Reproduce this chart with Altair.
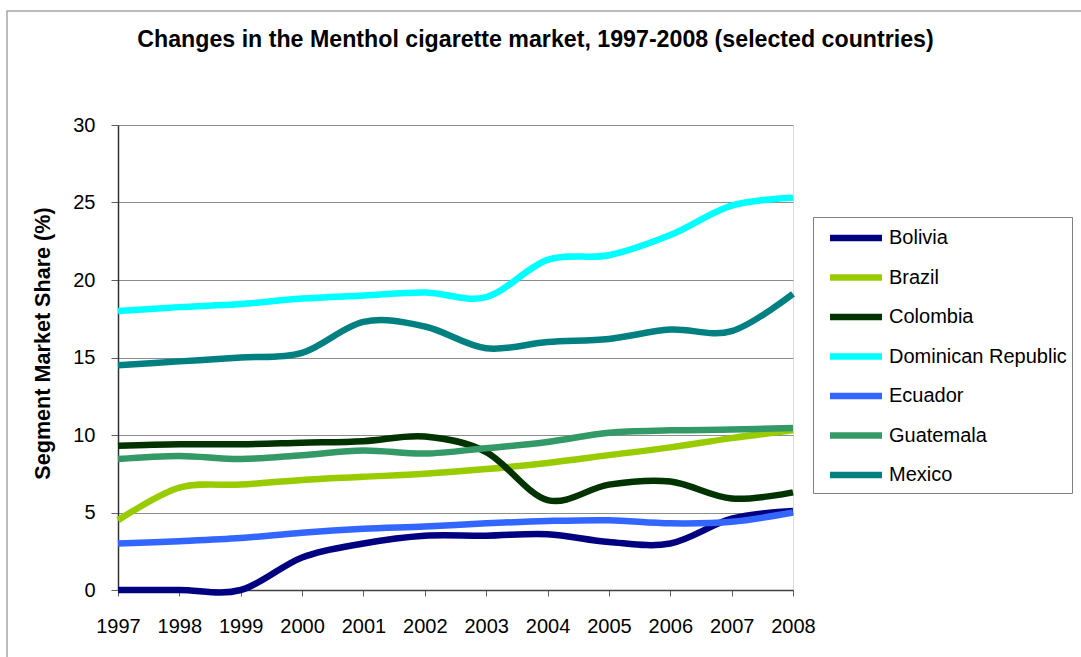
import altair as alt
import pandas as pd

years = list(range(1997, 2009))
countries = ["Bolivia", "Brazil", "Colombia", "Dominican Republic", "Ecuador", "Guatemala", "Mexico"]
colors = ["#000080", "#99CC00", "#003300", "#00FFFF", "#3366FF", "#339966", "#008080"]

bolivia = [0.0, 0.0, 0.0, 2.1, 3.0, 3.5, 3.5, 3.6, 3.1, 3.0, 4.6, 5.1]
brazil = [4.5, 6.6, 6.8, 7.1, 7.3, 7.5, 7.8, 8.2, 8.7, 9.2, 9.8, 10.3]
colombia = [9.3, 9.4, 9.4, 9.5, 9.6, 9.9, 8.9, 5.8, 6.8, 7.0, 5.9, 6.3]
dominican = [18.0, 18.25, 18.45, 18.8, 19.0, 19.2, 18.9, 21.3, 21.6, 22.9, 24.8, 25.3]
ecuador = [3.0, 3.15, 3.35, 3.7, 3.95, 4.1, 4.3, 4.45, 4.5, 4.3, 4.4, 5.0]
guatemala = [8.45, 8.65, 8.45, 8.7, 9.0, 8.8, 9.15, 9.55, 10.15, 10.3, 10.35, 10.45]
mexico = [14.5, 14.75, 15.0, 15.3, 17.3, 17.0, 15.6, 16.0, 16.2, 16.8, 16.7, 19.1]

series = [bolivia, brazil, colombia, dominican, ecuador, guatemala, mexico]
rows = []
for name, vals in zip(countries, series):
    for y, v in zip(years, vals):
        rows.append({"Country": name, "Year": y, "Share": v})
df = pd.DataFrame(rows)

FONT = "Liberation Sans"

frame = alt.Chart(pd.DataFrame({"k": [0]})).mark_rect(
    fillOpacity=0, stroke="#a6a6a6", strokeWidth=1.5
).encode(
    x=alt.value(-111), x2=alt.value(1100), y=alt.value(-114), y2=alt.value(600)
)

lines = alt.Chart(df).mark_line(strokeWidth=6.5, interpolate="cardinal").encode(
    x=alt.X("Year:Q",
            scale=alt.Scale(domain=[1997, 2008], nice=False, zero=False),
            axis=alt.Axis(values=years, format="d", title=None, grid=False,
                          tickSize=6, labelPadding=20, labelFontSize=20,
                          labelFont=FONT, labelColor="#000000",
                          domainColor="#404040", domainWidth=1.5,
                          tickColor="#606060", labelFlush=False)),
    y=alt.Y("Share:Q",
            scale=alt.Scale(domain=[0, 30], nice=False),
            axis=alt.Axis(values=[0, 5, 10, 15, 20, 25, 30],
                          title="Segment Market Share (%)",
                          titleFont=FONT, titleFontSize=21.6, titleFontWeight="bold",
                          titleColor="#000000", titlePadding=18, titleY=218,
                          tickSize=7, labelPadding=16, labelFontSize=20,
                          labelFont=FONT, labelColor="#000000",
                          domainColor="#303030", domainWidth=1.5,
                          tickColor="#606060", grid=True, gridColor="#8c8c8c",
                          gridWidth=1, labelFlush=False)),
    color=alt.Color("Country:N",
                    scale=alt.Scale(domain=countries, range=colors),
                    legend=alt.Legend(title=None, orient="none", legendX=695, legendY=92,
                                      symbolType="M-2,0H2", symbolSize=676,
                                      symbolStrokeWidth=6.5, symbolOffset=22,
                                      labelOffset=16.5, labelFontSize=20, labelFont=FONT,
                                      labelColor="#000000", padding=4.5, rowPadding=9.5,
                                      strokeColor="#808080", fillColor="#ffffff",
                                      labelLimit=400)),
    order=alt.Order("Year:Q"),
)

chart = alt.layer(frame, lines).properties(
    width=675,
    height=465,
    padding={"left": 118, "top": 125, "right": 288, "bottom": 67},
    autosize=alt.AutoSizeParams(type="none"),
    title=alt.TitleParams(
        "Changes in the Menthol cigarette market, 1997-2008 (selected countries)",
        font=FONT, fontSize=23.2, fontWeight="bold", color="#000000",
        anchor="middle", dx=80, baseline="alphabetic", offset=-60,
    ),
).configure_view(
    stroke="#808080", strokeWidth=1.5
).configure(background="#ffffff")

chart.save("out.html", embed_options={"renderer": "svg", "actions": False})
